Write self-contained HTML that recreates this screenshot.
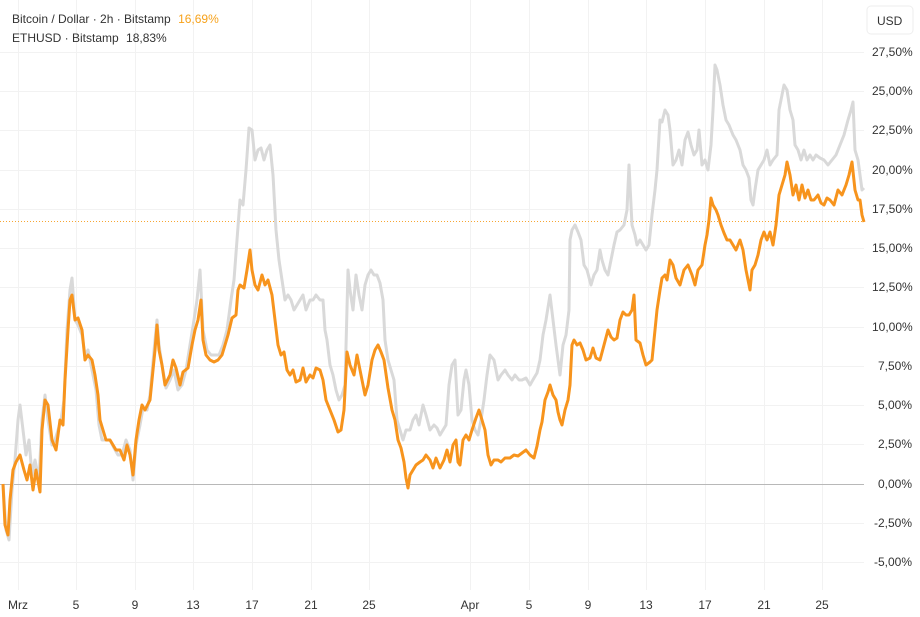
<!DOCTYPE html>
<html><head><meta charset="utf-8"><style>
html,body{margin:0;padding:0;background:#fff;}
svg{display:block;font-family:"Liberation Sans","DejaVu Sans",sans-serif;}
</style></head><body>
<svg width="920" height="617" viewBox="0 0 920 617" xmlns="http://www.w3.org/2000/svg">
<rect width="920" height="617" fill="#fff"/>
<g stroke="#f2f2f2" stroke-width="1">
<line x1="0" x2="864" y1="52.5" y2="52.5"/><line x1="0" x2="864" y1="91.5" y2="91.5"/><line x1="0" x2="864" y1="130.5" y2="130.5"/><line x1="0" x2="864" y1="170.5" y2="170.5"/><line x1="0" x2="864" y1="209.5" y2="209.5"/><line x1="0" x2="864" y1="248.5" y2="248.5"/><line x1="0" x2="864" y1="287.5" y2="287.5"/><line x1="0" x2="864" y1="327.5" y2="327.5"/><line x1="0" x2="864" y1="366.5" y2="366.5"/><line x1="0" x2="864" y1="405.5" y2="405.5"/><line x1="0" x2="864" y1="444.5" y2="444.5"/><line x1="0" x2="864" y1="523.5" y2="523.5"/><line x1="0" x2="864" y1="562.5" y2="562.5"/>
<line y1="0" y2="590" x1="18.5" x2="18.5"/><line y1="0" y2="590" x1="76.5" x2="76.5"/><line y1="0" y2="590" x1="135.5" x2="135.5"/><line y1="0" y2="590" x1="193.5" x2="193.5"/><line y1="0" y2="590" x1="252.5" x2="252.5"/><line y1="0" y2="590" x1="311.5" x2="311.5"/><line y1="0" y2="590" x1="369.5" x2="369.5"/><line y1="0" y2="590" x1="470.5" x2="470.5"/><line y1="0" y2="590" x1="529.5" x2="529.5"/><line y1="0" y2="590" x1="588.5" x2="588.5"/><line y1="0" y2="590" x1="646.5" x2="646.5"/><line y1="0" y2="590" x1="705.5" x2="705.5"/><line y1="0" y2="590" x1="764.5" x2="764.5"/><line y1="0" y2="590" x1="822.5" x2="822.5"/>
</g>
<line x1="0" x2="864" y1="484.5" y2="484.5" stroke="#b8b8b8" stroke-width="1"/>
<line x1="0" x2="864" y1="221.5" y2="221.5" stroke="#f7a633" stroke-width="1" stroke-dasharray="1,2"/>
<polyline fill="none" stroke="#d9d9d9" stroke-width="3" stroke-linejoin="round" points="3,484 6,530 9,540 12,490 15,460 18,420 20,405 23,430 26,455 29,440 32,475 35,460 39,480 42,420 45,395 48,420 52,445 55,440 58,430 61,420 64,400 67,330 70,290 72,278 75,320 78,325 82,335 85,355 88,350 92,370 96,390 99,425 102,440 106,440 110,440 114,448 118,455 122,455 126,440 130,450 133,480 136,445 140,425 143,408 147,410 150,395 153,362 155,340 157,320 159,345 162,365 166,388 170,380 174,370 178,390 182,385 186,370 190,345 194,320 197,300 200,270 203,330 207,350 211,355 215,355 219,355 223,345 227,330 231,300 234,280 237,240 240,200 243,205 246,170 249,128 252,130 255,160 258,150 261,148 264,160 267,150 270,145 273,175 276,230 279,260 282,280 285,300 288,295 291,300 294,310 297,305 300,300 303,295 306,310 310,300 313,300 316,295 320,300 323,300 325,330 327,340 330,365 333,375 336,390 339,400 342,395 345,385 348,270 350,290 353,310 356,275 359,295 362,310 365,285 368,275 371,270 374,275 377,275 380,283 383,300 385,340 388,360 391,370 394,380 397,420 400,430 403,440 406,430 410,430 413,420 416,415 419,425 423,405 426,415 430,430 434,425 437,428 440,435 443,430 446,425 449,385 452,365 455,360 458,415 461,410 464,380 466,370 469,385 472,420 475,430 478,435 481,420 484,400 487,375 490,355 494,360 498,380 501,375 505,370 508,375 512,380 515,375 519,380 522,380 526,378 530,385 534,378 537,373 540,360 543,335 546,320 550,295 553,320 556,345 560,375 563,345 566,335 569,310 570,240 572,230 575,225 578,232 581,240 584,265 587,270 591,285 594,275 597,270 600,250 602,260 605,270 608,275 611,260 614,245 617,232 620,230 624,225 627,210 629,165 632,225 635,235 637,245 640,240 643,245 646,250 649,245 652,215 655,190 657,170 660,120 662,122 665,110 668,115 670,130 673,165 676,160 679,150 682,165 685,140 688,132 691,145 694,155 697,150 699,130 702,165 705,160 708,170 711,145 713,110 715,65 717,70 720,85 723,105 726,120 729,125 733,135 736,140 740,150 743,165 746,170 749,178 751,200 753,205 755,190 758,170 761,165 764,160 767,150 770,165 773,160 777,155 779,110 782,95 784,85 787,90 790,110 793,120 795,145 798,150 801,160 804,150 807,160 810,155 813,160 816,155 820,158 824,160 828,165 832,160 836,155 840,145 844,135 848,120 851,110 853,102 855,150 858,160 862,190 864,188"/>
<polyline fill="none" stroke="#f7941d" stroke-width="3" stroke-linejoin="round" points="3,484 5,525 8,535 10,500 13,470 16,462 20,455 24,470 27,480 30,465 33,490 36,470 40,492 42,430 45,400 48,405 52,440 56,450 60,420 63,425 65,380 68,330 70,300 72,295 75,320 78,318 82,330 85,360 88,355 92,360 95,375 98,395 100,420 103,430 106,440 110,440 113,445 116,450 120,450 124,460 127,445 130,455 133,475 136,440 139,420 142,405 145,410 150,400 153,370 155,350 157,325 159,350 162,365 165,385 170,375 173,360 176,368 180,385 183,372 188,368 192,345 195,330 198,320 201,300 203,340 206,355 210,360 214,362 218,360 222,355 225,345 228,335 232,318 236,315 238,290 240,285 244,288 247,270 250,250 252,270 255,285 258,290 262,275 265,285 268,280 272,295 275,320 278,345 281,355 284,352 287,370 290,375 293,370 296,382 300,380 303,368 306,382 310,375 313,378 316,368 320,370 323,380 326,400 330,410 334,420 338,432 341,430 344,410 347,352 350,365 354,375 357,355 360,370 365,395 368,385 372,360 375,350 378,345 381,352 384,360 388,388 392,410 395,420 398,440 401,448 404,462 406,478 408,488 410,475 413,470 416,465 420,462 423,460 426,455 430,460 433,468 436,458 440,468 444,460 447,450 450,462 453,445 456,440 458,462 460,465 463,440 466,435 469,440 472,430 476,418 479,410 482,420 485,430 488,455 491,465 494,460 498,460 501,462 505,458 510,458 514,455 518,456 522,453 526,450 530,455 534,458 537,446 540,430 542,422 545,400 548,392 550,385 553,395 556,400 558,412 560,420 562,425 565,410 568,400 570,385 572,345 574,340 577,345 580,343 583,350 586,360 590,358 593,348 596,358 600,360 604,345 608,330 611,337 614,340 617,338 620,320 623,312 626,315 629,315 632,310 634,295 636,340 640,343 643,355 646,365 650,362 652,360 655,330 657,310 660,290 662,278 665,275 667,280 670,260 673,265 676,278 680,285 684,270 688,265 692,275 695,285 698,270 702,265 705,245 707,235 709,220 711,198 713,205 716,210 718,215 721,225 724,233 727,240 730,240 733,245 736,250 740,240 743,250 746,270 748,280 750,290 752,270 755,265 758,255 761,240 764,232 767,240 770,232 773,245 776,225 779,195 782,185 785,175 787,162 790,175 793,195 796,185 799,200 802,185 805,198 808,190 811,200 814,200 818,195 821,203 824,205 827,198 830,200 834,205 838,190 842,195 846,185 849,175 852,162 855,190 858,200 860,200 862,215 864,222"/>
<g font-size="12" fill="#333">
<text x="872" y="56">27,50%</text><text x="872" y="95">25,00%</text><text x="872" y="134">22,50%</text><text x="872" y="174">20,00%</text><text x="872" y="213">17,50%</text><text x="872" y="252">15,00%</text><text x="872" y="291">12,50%</text><text x="872" y="331">10,00%</text><text x="878" y="370">7,50%</text><text x="878" y="409">5,00%</text><text x="878" y="448">2,50%</text><text x="878" y="488">0,00%</text><text x="874" y="527">-2,50%</text><text x="874" y="566">-5,00%</text>
</g>
<rect x="867" y="6" width="46" height="28" rx="4" fill="#fff" stroke="#eee"/>
<text x="877" y="25" font-size="12" fill="#333">USD</text>
<g font-size="12" fill="#333" text-anchor="middle">
<text x="18" y="609">Mrz</text><text x="76" y="609">5</text><text x="135" y="609">9</text><text x="193" y="609">13</text><text x="252" y="609">17</text><text x="311" y="609">21</text><text x="369" y="609">25</text><text x="470" y="609">Apr</text><text x="529" y="609">5</text><text x="588" y="609">9</text><text x="646" y="609">13</text><text x="705" y="609">17</text><text x="764" y="609">21</text><text x="822" y="609">25</text>
</g>
<g font-size="12" fill="#333">
<text x="12" y="23">Bitcoin / Dollar · 2h · Bitstamp <tspan fill="#f7a21b" dx="4">16,69%</tspan></text>
<text x="12" y="42">ETHUSD · Bitstamp <tspan dx="4">18,83%</tspan></text>
</g>
</svg>
</body></html>
